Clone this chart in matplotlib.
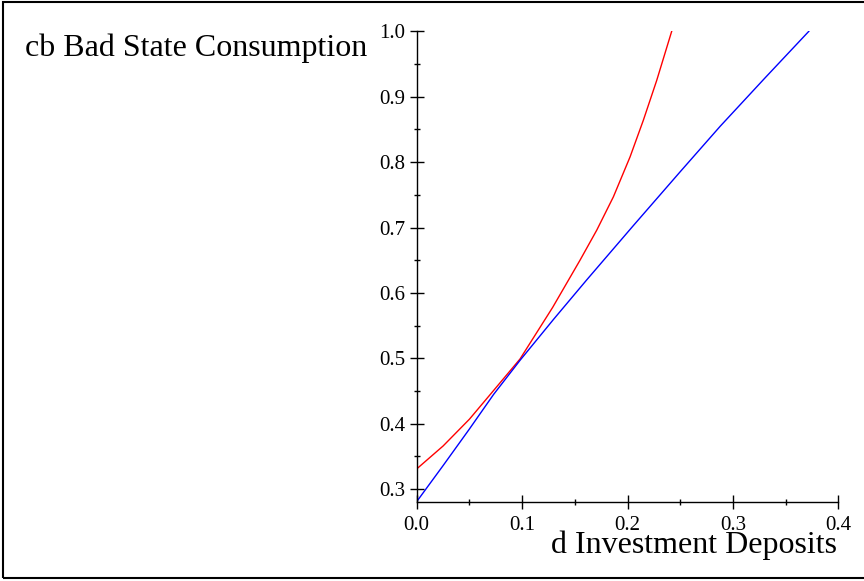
import matplotlib.pyplot as plt
from matplotlib.patches import Rectangle
from matplotlib.ticker import MultipleLocator

# values
d_blue = [0.0, 0.025, 0.05, 0.073, 0.098, 0.13, 0.1613, 0.205, 0.2498, 0.288, 0.33, 0.372]
cb_blue = [0.281, 0.336, 0.392, 0.445, 0.497, 0.560, 0.620, 0.702, 0.785, 0.855, 0.928, 1.0]

d_red = [0.0, 0.025, 0.05, 0.073, 0.098, 0.129, 0.1549, 0.1708, 0.1866, 0.2024, 0.215, 0.2277, 0.2419]
cb_red = [0.331, 0.366, 0.407, 0.451, 0.499, 0.578, 0.650, 0.696, 0.747, 0.808, 0.864, 0.925, 1.0]

xticks = [0.0, 0.1, 0.2, 0.3, 0.4]
yticks = [0.3, 0.4, 0.5, 0.6, 0.7, 0.8, 0.9, 1.0]

plt.rcParams['font.family'] = ['Liberation Serif', 'DejaVu Serif']

fig = plt.figure(figsize=(8.64, 5.81), dpi=100)
ax = fig.add_axes([0.4823, 0.1355, 0.4880, 0.8106])

ax.plot(d_red, cb_red, color='red', lw=1.0)
ax.plot(d_blue, cb_blue, color='blue', lw=1.0)

ax.set_xlim(0, 0.4)
ax.set_ylim(0.28, 1.0)
ax.set_xticks(xticks)
ax.set_yticks(yticks)
ax.set_xticklabels(['%.1f' % v for v in xticks])
ax.set_yticklabels(['%.1f' % v for v in yticks])
ax.xaxis.set_minor_locator(MultipleLocator(0.05))
ax.yaxis.set_minor_locator(MultipleLocator(0.05))

for s in ['top', 'right']:
    ax.spines[s].set_visible(False)
for s in ['left', 'bottom']:
    ax.spines[s].set_linewidth(1.0)

ax.tick_params(which='major', direction='inout', length=10, width=1.0, labelsize=15)
ax.tick_params(which='minor', direction='inout', length=5, width=1.0)
ax.tick_params(axis='y', which='major', pad=3)
ax.tick_params(axis='x', which='major', pad=5)

fig.text(25 / 864, 1 - 48 / 581, 'cb Bad State Consumption', fontsize=23,
         ha='left', va='center')
fig.text(837 / 864, 1 - 545 / 581, 'd Investment Deposits', fontsize=23,
         ha='right', va='center')

# frame round the picture (its right side lies past the edge)
fig.patches.append(Rectangle((3 / 864, 3 / 581), 870 / 864, 576 / 581,
                             transform=fig.transFigure, fill=False,
                             edgecolor='black', lw=1.5))

fig.savefig('out.png', dpi=100)
